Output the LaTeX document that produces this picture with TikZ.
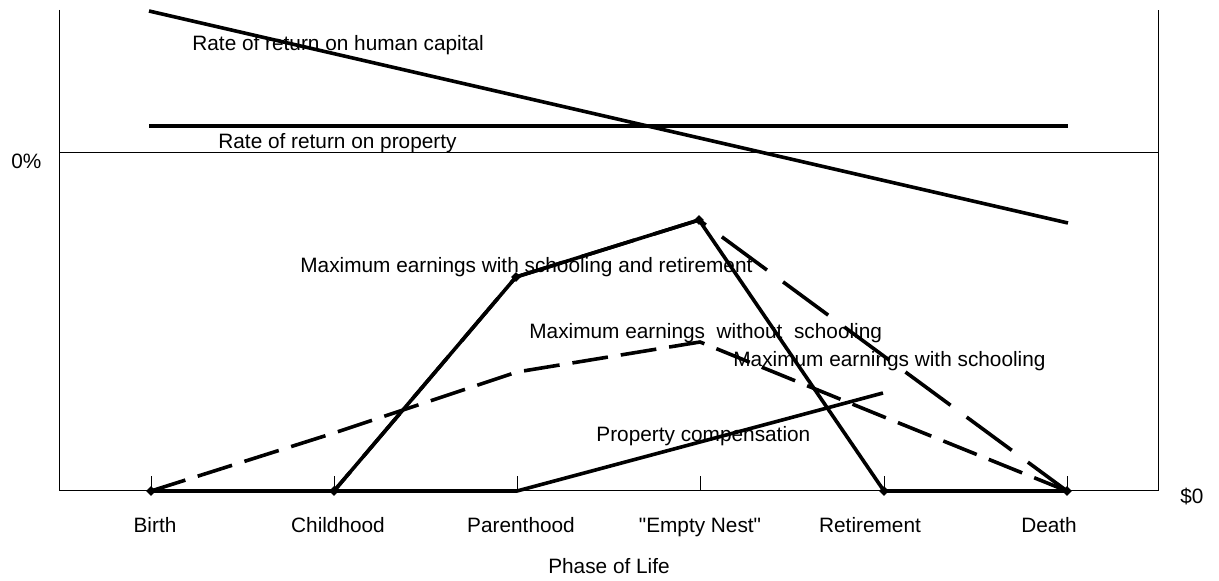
\documentclass[tikz,border=0pt]{standalone}
\usepackage{fontspec}
\setmainfont{Liberation Sans}[Ligatures=TeXOff]
\usetikzlibrary{shapes.geometric}

\tikzset{
  axis/.style={black, line width=0.5pt},
  series/.style={black, line width=1.8pt},
  shortdash/.style={series, dash pattern=on 18pt off 6.5pt},
  longdash/.style={series, dash pattern=on 28pt off 10pt},
  point/.style={diamond, fill=black, inner sep=0pt, minimum size=5pt},
  label/.style={anchor=base west},
  every node/.style={font=\fontsize{10.4}{12}\selectfont, inner sep=0pt}
}

\begin{document}
\begin{tikzpicture}[x=0.5pt, y=0.5pt]
\useasboundingbox (0,0) rectangle (1219,-581);
% chart frame
\draw [axis] (59,-10) -- (59,-491) -- (1158,-491) -- (1158,-10);
\draw [axis] (59,-153) -- (1158,-153);
\node (zero) [anchor=base west] at (11,-169) {0\%};
\node (dollar) [anchor=base west] at (1180,-504) {\$0};
% phases of life
\foreach \px/\lx/\txt [count=\i] in {151/155/Birth, 334/338/Childhood, 517/521/Parenthood, 700/700/{"Empty Nest"}, 884/870/Retirement, 1067/1049/Death} {
  \coordinate (t\i) at (\px,-491);
  \draw [axis] (t\i) -- ++(0,15);
  \node (phase\i) [anchor=base] at (\lx,-533) {\txt};
}
\node (xtitle) [anchor=base] at (609,-574) {Phase of Life};
% series labels
\node (lblhuman) [label] at (192,-51) {Rate of return on human capital};
\node (lblprop) [label] at (218,-149) {Rate of return on property};
\node (lblret) [label] at (300,-273) {Maximum earnings with schooling and retirement};
\node (lblnosch) [label] at (529,-339) {Maximum earnings\ \ without\ \ schooling};
\node (lblsch) [label] at (733,-367) {Maximum earnings with schooling};
\node (lblcomp) [label] at (596,-442) {Property compensation};
% data points
\coordinate (b0) at (151,-491);
\coordinate (c0) at (334,-491);
\coordinate (p0) at (517,-491);
\coordinate (r0) at (884,-491);
\coordinate (d0) at (1067,-491);
\coordinate (ps) at (516,-277);
\coordinate (es) at (699,-220);
\coordinate (cn) at (334,-433);
\coordinate (pn) at (517,-372);
\coordinate (en) at (700,-342);
\coordinate (rn) at (884,-417);
\coordinate (rp) at (883,-393);
\coordinate (h1) at (149,-11);
\coordinate (h2) at (1068,-223);
\coordinate (q1) at (149,-126);
\coordinate (q2) at (1068,-126);
% rates of return
\draw [series] (h1) -- (h2);
\draw [series] (q1) -- (q2);
% earnings
\draw [series] (b0) -- (c0) -- (ps) -- (es) -- (r0) -- (d0);
\draw [longdash] (b0) -- (c0) -- (ps) -- (es) -- (d0);
\draw [shortdash] (b0) -- (cn) -- (pn) -- (en) -- (rn) -- (d0);
\draw [series] (b0) -- (p0) -- (rp);
\foreach \p in {b0,c0,ps,es,r0,d0}
  \node (m-\p) [point] at (\p) {};
\end{tikzpicture}
\end{document}
